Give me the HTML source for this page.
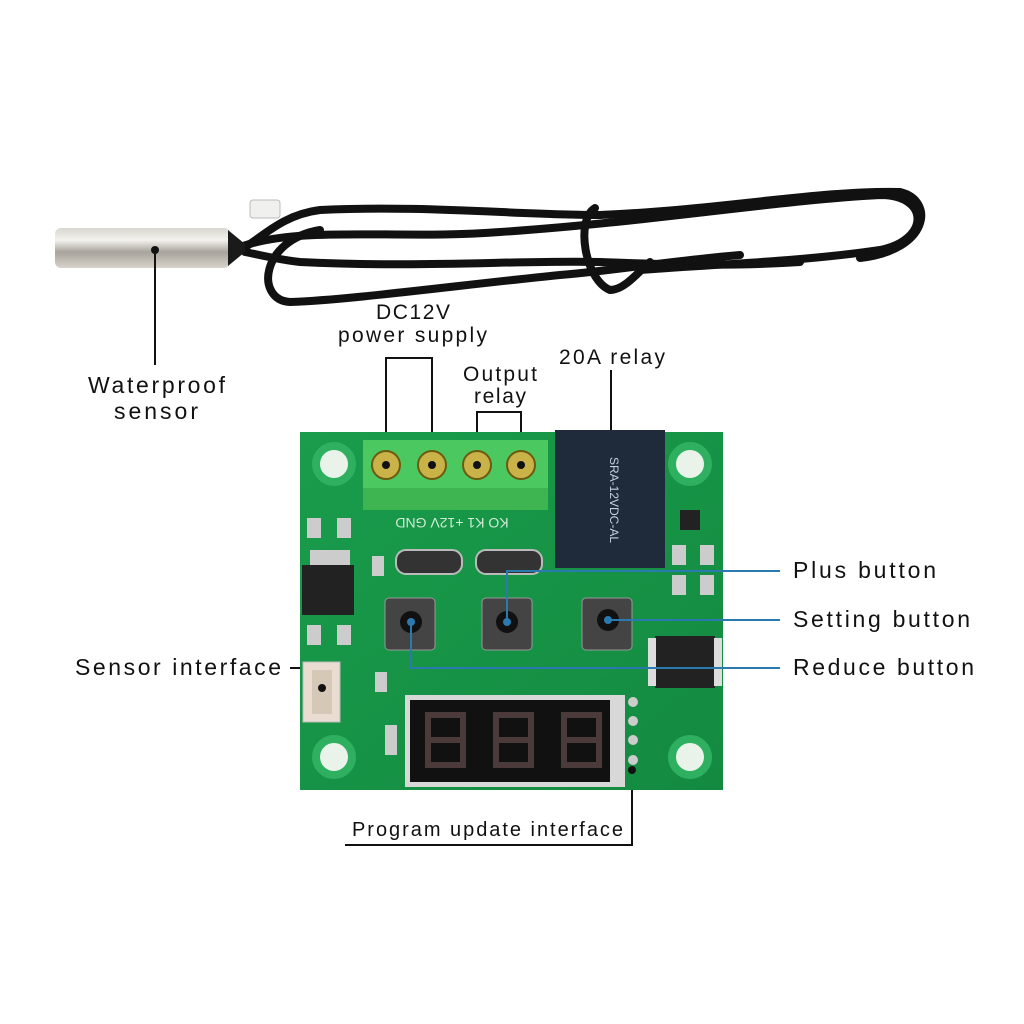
<!DOCTYPE html>
<html><head><style>
html,body{margin:0;padding:0;background:#fff;}
svg{display:block;}
text{font-family:"Liberation Sans",sans-serif;fill:#111;}
</style></head><body>
<svg width="1024" height="1024" viewBox="0 0 1024 1024">
<defs>
<linearGradient id="metal" x1="0" y1="0" x2="0" y2="1">
<stop offset="0" stop-color="#d8d6d0"/><stop offset="0.3" stop-color="#f4f2ee"/><stop offset="0.6" stop-color="#a8a49c"/><stop offset="1" stop-color="#d8d4cc"/>
</linearGradient>
<linearGradient id="pcb" x1="0" y1="0" x2="1" y2="1">
<stop offset="0" stop-color="#1a9c4c"/><stop offset="1" stop-color="#138a40"/>
</linearGradient>
</defs>
<g fill="none" stroke="#111" stroke-width="8" stroke-linecap="round">
<path d="M240 247 C300 225 400 240 500 232 C650 222 780 200 880 195 C930 195 930 240 880 250 C800 262 700 265 640 270"/>
<path d="M240 250 C260 240 280 215 320 210 C420 205 520 215 600 215 C720 210 820 190 900 192 C935 200 930 250 860 258"/>
<path d="M245 252 C260 255 280 260 300 262 C420 268 520 260 600 262 C680 265 740 266 800 262"/>
<path d="M320 230 C260 240 255 300 290 302 C350 300 460 285 560 275 C620 270 660 262 740 255"/>
<path d="M595 208 C575 220 585 280 610 290 C625 290 640 270 650 262"/>
</g>
<rect x="250" y="200" width="30" height="18" rx="3" fill="#f0f0ee" stroke="#bbb"/>
<rect x="55" y="228" width="175" height="40" rx="6" fill="url(#metal)"/>
<path d="M228 230 L245 244 L245 252 L228 266 Z" fill="#1a1a1a"/>
<g stroke="#111" stroke-width="2" fill="none">
<path d="M155 250 V365"/>
<path d="M386 465 V358 H432 V465"/>
<path d="M477 465 V412 H521 V465"/>
<path d="M611 370 V456"/>
<path d="M290 668 H322"/>
<path d="M632 770 V845 H345"/>
</g>
<circle cx="155" cy="250" r="4" fill="#111"/>
<text x="88" y="393" font-size="23" textLength="137" lengthAdjust="spacing">Waterproof</text>
<text x="114" y="419" font-size="23" textLength="84" lengthAdjust="spacing">sensor</text>
<text x="376" y="319" font-size="21" textLength="74" lengthAdjust="spacing">DC12V</text>
<text x="338" y="342" font-size="21" textLength="149" lengthAdjust="spacing">power supply</text>
<text x="463" y="381" font-size="21" textLength="74" lengthAdjust="spacing">Output</text>
<text x="474" y="403" font-size="21" textLength="52" lengthAdjust="spacing">relay</text>
<text x="559" y="364" font-size="21" textLength="106" lengthAdjust="spacing">20A relay</text>
<text x="75" y="675" font-size="23" textLength="206" lengthAdjust="spacing">Sensor interface</text>
<text x="352" y="836" font-size="20" textLength="271" lengthAdjust="spacing">Program update interface</text>
<text x="793" y="578" font-size="23" textLength="143" lengthAdjust="spacing">Plus button</text>
<text x="793" y="627" font-size="23" textLength="177" lengthAdjust="spacing">Setting button</text>
<text x="793" y="675" font-size="23" textLength="181" lengthAdjust="spacing">Reduce button</text>
<rect x="300" y="432" width="423" height="358" fill="url(#pcb)"/>
<g fill="#e9f3ea" stroke="#2fb060" stroke-width="8">
<circle cx="334" cy="464" r="18"/><circle cx="690" cy="464" r="18"/>
<circle cx="334" cy="757" r="18"/><circle cx="690" cy="757" r="18"/>
</g>
<rect x="363" y="440" width="185" height="70" fill="#4cc860"/>
<rect x="363" y="488" width="185" height="22" fill="#3fb552"/>
<g fill="#c9b248" stroke="#6c5a10" stroke-width="2">
<circle cx="386" cy="465" r="14"/><circle cx="432" cy="465" r="14"/><circle cx="477" cy="465" r="14"/><circle cx="521" cy="465" r="14"/>
</g>
<g fill="#111"><circle cx="386" cy="465" r="4"/><circle cx="432" cy="465" r="4"/><circle cx="477" cy="465" r="4"/><circle cx="521" cy="465" r="4"/><circle cx="611" cy="456" r="5"/></g>
<text x="452" y="528" font-size="14" text-anchor="middle" transform="rotate(180 452 523)" style="fill:#d0ead6">KO K1 +12V GND</text>
<rect x="555" y="430" width="110" height="138" fill="#1f2a3a"/>
<text x="610" y="500" font-size="12" text-anchor="middle" transform="rotate(90 610 500)" style="fill:#c8d0dc">SRA-12VDC-AL</text>
<rect x="396" y="550" width="66" height="24" rx="10" fill="#333" stroke="#bbb" stroke-width="2"/>
<rect x="476" y="550" width="66" height="24" rx="10" fill="#333" stroke="#bbb" stroke-width="2"/>
<rect x="302" y="565" width="52" height="50" fill="#222"/>
<rect x="310" y="550" width="40" height="15" fill="#ccc"/>
<g fill="#ccc"><rect x="307" y="518" width="14" height="20"/><rect x="337" y="518" width="14" height="20"/><rect x="372" y="556" width="12" height="20"/><rect x="672" y="545" width="14" height="20"/><rect x="700" y="545" width="14" height="20"/><rect x="672" y="575" width="14" height="20"/><rect x="700" y="575" width="14" height="20"/><rect x="375" y="672" width="12" height="20"/><rect x="385" y="725" width="12" height="30"/><rect x="307" y="625" width="14" height="20"/><rect x="337" y="625" width="14" height="20"/></g>
<rect x="680" y="510" width="20" height="20" fill="#222"/>
<rect x="655" y="636" width="60" height="52" fill="#222"/>
<g fill="#ddd"><rect x="648" y="638" width="8" height="48"/><rect x="714" y="638" width="8" height="48"/></g>
<g><rect x="385" y="598" width="50" height="52" rx="4" fill="#444" stroke="#999"/><circle cx="411" cy="622" r="11" fill="#111"/>
<rect x="482" y="598" width="50" height="52" rx="4" fill="#444" stroke="#999"/><circle cx="507" cy="622" r="11" fill="#111"/>
<rect x="582" y="598" width="50" height="52" rx="4" fill="#444" stroke="#999"/><circle cx="608" cy="620" r="11" fill="#111"/></g>
<g stroke="#2a7ab0" stroke-width="2" fill="none">
<path d="M507 622 V571 H780"/><path d="M608 620 H780"/><path d="M411 622 V668 H780"/>
</g>
<g fill="#2a7ab0"><circle cx="507" cy="622" r="4"/><circle cx="608" cy="620" r="4"/><circle cx="411" cy="622" r="4"/></g>
<rect x="303" y="662" width="37" height="60" fill="#e8ddd0" stroke="#bbb"/>
<rect x="312" y="670" width="20" height="44" fill="#d6c8b6"/>
<circle cx="322" cy="688" r="4" fill="#111"/>
<rect x="405" y="695" width="220" height="92" fill="#d8d8d8"/>
<rect x="410" y="700" width="200" height="82" fill="#111"/>
<g fill="none" stroke="#4a3a3a" stroke-width="6">
<path d="M428 715 h35 v25 h-35 z M428 740 h35 v25 h-35 z"/>
<path d="M496 715 h35 v25 h-35 z M496 740 h35 v25 h-35 z"/>
<path d="M564 715 h35 v25 h-35 z M564 740 h35 v25 h-35 z"/>
</g>
<g fill="#ccc"><circle cx="633" cy="702" r="5"/><circle cx="633" cy="721" r="5"/><circle cx="633" cy="740" r="5"/><circle cx="633" cy="760" r="5"/></g>
<circle cx="632" cy="770" r="4" fill="#111"/>
</svg>
</body></html>
